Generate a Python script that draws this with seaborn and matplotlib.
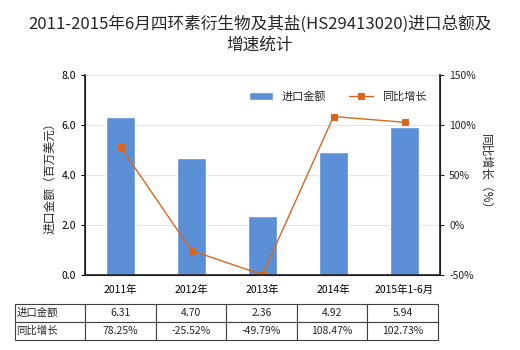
import matplotlib
matplotlib.use("Agg")
import matplotlib.pyplot as plt
import seaborn as sns
import pandas as pd
import numpy as np

categories = ['2011年', '2012年', '2013年', '2014年', '2015年1-6月']
amounts = [6.31, 4.70, 2.36, 4.92, 5.94]
growth = [78.25, -25.52, -49.79, 108.47, 102.73]
amount_labels = ['6.31', '4.70', '2.36', '4.92', '5.94']
growth_labels = ['78.25%', '-25.52%', '-49.79%', '108.47%', '102.73%']

sns.set_theme(style="white")
plt.rcParams['font.family'] = ['Noto Sans CJK SC', 'DejaVu Sans']
plt.rcParams['axes.unicode_minus'] = False

bar_color = '#5B8FD6'
line_color = '#D9661F'

fig = plt.figure(figsize=(5.2, 3.5), dpi=100)
ax = fig.add_axes([85/520, 1-275/350, (440-85)/520, 200/350])

df = pd.DataFrame({'cat': categories, 'amount': amounts, 'growth': growth, 'x': np.arange(len(categories))})
sns.barplot(data=df, x='cat', y='amount', color=bar_color, width=0.4, ax=ax,
            saturation=1, label='进口金额', zorder=2)
ax.set_ylim(0, 8)
ax.set_yticks([0, 2, 4, 6, 8])
ax.set_yticklabels(['0.0', '2.0', '4.0', '6.0', '8.0'])
ax.yaxis.grid(True, color='#E5E5E5', linewidth=0.8, zorder=0)
ax.set_axisbelow(True)
ax.set_xlabel('')
ax.set_ylabel('进口金额（百万美元）', fontsize=8.5)
ax.tick_params(axis='both', labelsize=7.5, length=3, colors='black', width=0.8)
ax.tick_params(axis='y', left=True)
ax.tick_params(axis='x', bottom=False, pad=4)
for s in ['left', 'right', 'bottom']:
    ax.spines[s].set_color('black')
    ax.spines[s].set_linewidth(0.8)
ax.spines['top'].set_visible(False)

ax2 = ax.twinx()
sns.lineplot(data=df, x='x', y='growth', color=line_color, marker='s', markersize=4,
             linewidth=1.0, ax=ax2, label='同比增长', markeredgecolor=line_color)
ax2.set_ylim(-50, 150)
ax2.set_yticks([-50, 0, 50, 100, 150])
ax2.set_yticklabels(['-50%', '0%', '50%', '100%', '150%'])
ax2.set_ylabel('同比增长（%）', fontsize=8.5, rotation=-90, labelpad=12)
ax2.tick_params(axis='y', labelsize=7.5, length=3, right=True, width=0.8)
ax2.spines['top'].set_visible(False)
ax2.set_xlabel('')
ax.set_xlim(-0.5, 4.5)

h1, l1 = ax.get_legend_handles_labels()
h2, l2 = ax2.get_legend_handles_labels()
if ax.get_legend():
    ax.get_legend().remove()
ax2.legend(h1 + h2, l1 + l2, loc='upper right', bbox_to_anchor=(0.99, 0.97), ncol=2,
           frameon=False, fontsize=8, handlelength=2.2, columnspacing=2.0)

fig.text(0.5, 0.955, '2011-2015年6月四环素衍生物及其盐(HS29413020)进口总额及\n增速统计',
         ha='center', va='top', fontsize=12, linespacing=1.25)

# table
tax = fig.add_axes([15/520, 1-340/350, (438-15)/520, 36/350])
tax.axis('off')
cell_text = [['进口金额'] + amount_labels, ['同比增长'] + growth_labels]
tbl = tax.table(cellText=cell_text, bbox=[0, 0, 1, 1], cellLoc='center',
                colWidths=[70] + [70.6]*5)
tbl.auto_set_font_size(False)
tbl.set_fontsize(7.5)
for (r, c), cell in tbl.get_celld().items():
    cell.set_edgecolor('#404040')
    cell.set_linewidth(0.8)
    if c == 0:
        cell.set_text_props(ha='left')
        cell.PAD = 0.02

fig.savefig('out.png', dpi=100)
